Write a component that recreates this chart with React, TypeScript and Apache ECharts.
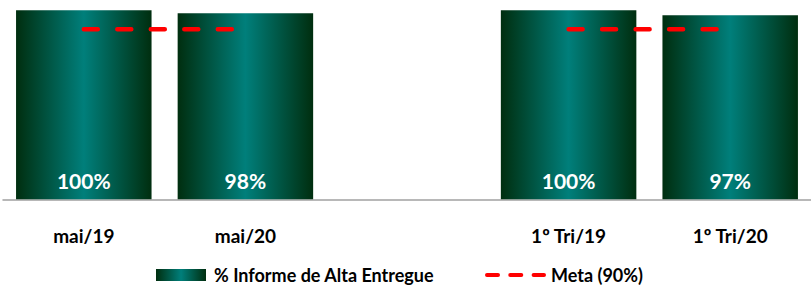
import React, { useEffect, useRef } from "react";
import * as echarts from "echarts";

const categories = ["mai/19", "mai/20", "", "1º Tri/19", "1º Tri/20"];
const deliveredPct = [100, 98.4, null, 100, 97.4];
const goalPct = [90, 90, null, 90, 90];
const barName = "% Informe de Alta Entregue";
const goalName = "Meta (90%)";

const FONT = "Lato, 'Open Sans', sans-serif";

export default function App() {
  const ref = useRef<HTMLDivElement>(null);
  useEffect(() => {
    if (!ref.current) return;
    const chart = echarts.init(ref.current, undefined, { renderer: "svg" });
    const barGrad = new echarts.graphic.LinearGradient(0, 0, 1, 0, [
      { offset: 0, color: "#002e0f" },
      { offset: 0.5, color: "#007f7b" },
      { offset: 1, color: "#002e0f" },
    ]);
    chart.setOption({
      animation: false,
      grid: { left: 3, top: 10.3, width: 811, height: 189 },
      xAxis: {
        type: "category",
        data: categories,
        axisTick: { show: false },
        axisLine: { lineStyle: { color: "#a0a0a0", width: 1.5 } },
        axisLabel: {
          color: "#000",
          fontFamily: FONT,
          fontWeight: "bold",
          fontSize: 19,
          margin: 27,
          interval: 0,
        },
      },
      yAxis: {
        type: "value",
        min: 0,
        max: 100,
        show: false,
        splitLine: { show: false },
      },
      legend: [
        {
          left: 156,
          top: 266,
          itemWidth: 50,
          itemHeight: 12,
          itemGap: 0,
          padding: 0,
          data: [{ name: barName, icon: "rect" }],
          textStyle: {
            color: "#000",
            fontFamily: FONT,
            fontWeight: "bold",
            fontSize: 18,
            padding: [0, 0, 0, 3],
          },
        },
        {
          left: 485,
          top: 266,
          itemWidth: 57,
          itemHeight: 12,
          padding: 0,
          data: [{ name: goalName, itemStyle: { opacity: 0 } }],
          lineStyle: { type: [11, 12.3], width: 4, cap: "round", color: "#ff0000" },
          textStyle: {
            color: "#000",
            fontFamily: FONT,
            fontWeight: "bold",
            fontSize: 18,
            padding: [0, 0, 0, 2],
          },
        },
      ],
      series: [
        {
          name: barName,
          type: "bar",
          data: deliveredPct,
          barWidth: 135.5,
          itemStyle: { color: barGrad },
          label: {
            show: true,
            position: "insideBottom",
            distance: 8,
            color: "#fff",
            fontFamily: FONT,
            fontWeight: "bold",
            fontSize: 21,
            formatter: (p: any) => `${Math.round(p.value)}%`,
          },
        },
        {
          name: goalName,
          type: "line",
          data: goalPct,
          symbol: "none",
          connectNulls: false,
          itemStyle: { color: "#ff0000" },
          lineStyle: { color: "#ff0000", width: 4.5, type: [14, 19.5], cap: "round" },
          z: 5,
        },
      ],
    });
    return () => chart.dispose();
  }, []);
  return (
    <div
      ref={ref}
      style={{ position: "absolute", left: 0, top: 0, width: 811, height: 285, background: "#fff" }}
    />
  );
}
